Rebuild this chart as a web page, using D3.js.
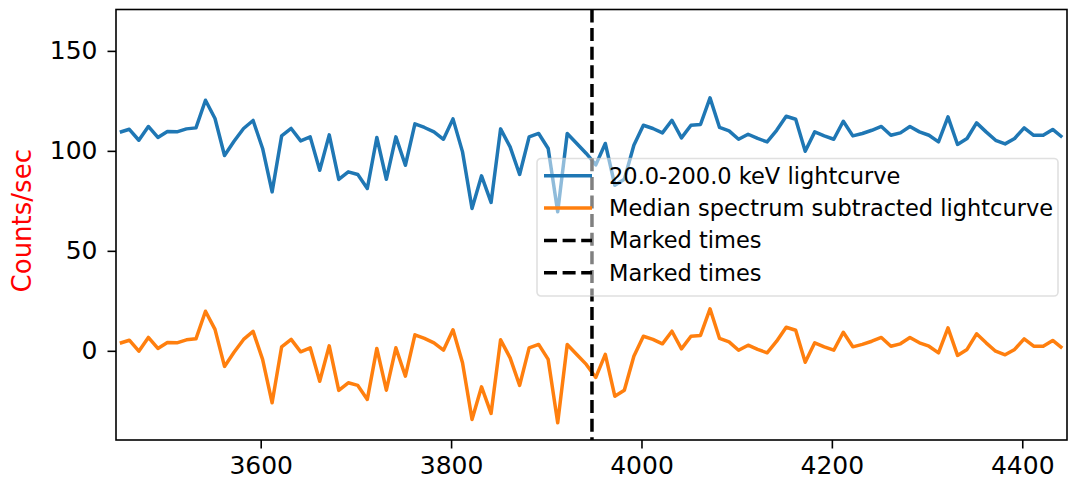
<!DOCTYPE html>
<html>
<head>
<meta charset="utf-8">
<script src="https://cdn.jsdelivr.net/npm/d3@7"></script>
<style>
    body { margin: 0; background: #fff; }
    text { font-family: "DejaVu Sans", sans-serif; }
</style>
</head>
<body>
<div id="wrapper"></div>
<script>

// time bins (seconds), 10 s wide
const timeStart = 3452
const timeStep = 10

const lightcurve = [
    109.3, 110.8, 105.3, 112.2, 106.7, 109.7, 109.5, 111.0, 111.5, 125.3,
    116.2, 97.7, 104.8, 111.2, 115.2, 101.2, 79.5, 107.5, 111.2, 105.0,
    107.0, 90.3, 108.0, 85.7, 89.5, 88.2, 81.2, 106.7, 85.8, 107.0,
    92.8, 113.5, 111.7, 109.5, 105.8, 116.0, 99.5, 71.2, 87.5, 74.2,
    111.0, 102.0, 88.2, 107.0, 108.7, 101.2, 69.5, 108.7, 103.7, 98.7,
    93.0, 103.7, 82.8, 85.8, 102.8, 112.8, 111.2, 109.0, 115.3, 106.5,
    112.8, 113.2, 126.5, 111.7, 110.0, 105.8, 108.3, 106.2, 104.5, 110.3,
    117.3, 115.8, 99.8, 109.5, 107.5, 105.8, 114.8, 107.5, 108.7, 110.3,
    112.2, 107.8, 109.0, 112.2, 109.5, 107.8, 104.5, 117.0, 103.2, 106.2,
    114.0, 109.5, 105.3, 103.5, 106.2, 111.5, 107.8, 107.8, 110.7, 106.8
]

const subtracted = [
    3.8, 5.3, -0.2, 6.7, 1.2, 4.2, 4.0, 5.5, 6.0, 19.8,
    10.7, -7.8, -0.7, 5.7, 9.7, -4.3, -26.0, 2.0, 5.7, -0.5,
    1.5, -15.2, 2.5, -19.8, -16.0, -17.3, -24.3, 1.2, -19.7, 1.5,
    -12.7, 8.0, 6.2, 4.0, 0.3, 10.5, -6.0, -34.3, -18.0, -31.3,
    5.5, -3.5, -17.3, 1.5, 3.2, -4.3, -36.0, 3.2, -1.8, -6.8,
    -13.3, -1.8, -22.7, -19.7, -2.7, 7.3, 5.7, 3.5, 9.8, 1.0,
    7.3, 7.7, 21.0, 6.2, 4.5, 0.3, 2.8, 0.7, -1.0, 4.8,
    11.8, 10.3, -5.7, 4.0, 2.0, 0.3, 9.3, 2.0, 3.2, 4.8,
    6.7, 2.3, 3.5, 6.7, 4.0, 2.3, -1.0, 11.5, -2.3, 0.7,
    8.5, 4.0, -0.2, -2.0, 0.7, 6.0, 2.3, 2.3, 5.2, 1.3
]

const markedTimes = [3948]
const xTicks = [3600, 3800, 4000, 4200, 4400]
const yTicks = [0, 50, 100, 150]
const legendLabels = [
    '20.0-200.0 keV lightcurve',
    'Median spectrum subtracted lightcurve',
    'Marked times',
    'Marked times'
]

async function drawChart() {

    const blue = '#1f77b4'
    const orange = '#ff7f0e'
    const dash = '13,5.6'

    //#region dimensions

    let dimensions = {
        width: 1069,
        height: 482,
        margin: { top: 9.5, right: 2, bottom: 42, left: 116 }
    }
    dimensions.boundedWidth = dimensions.width - dimensions.margin.left - dimensions.margin.right
    dimensions.boundedHeight = dimensions.height - dimensions.margin.top - dimensions.margin.bottom

    //#endregion

    //#region canvas

    const wrapper = d3.select('#wrapper')
        .append('svg')
        .attr('width', dimensions.width)
        .attr('height', dimensions.height)

    const bounds = wrapper.append('g')
        .attr('transform', `translate(${dimensions.margin.left},${dimensions.margin.top})`)

    bounds.append('clipPath')
        .attr('id', 'clip')
        .append('rect')
        .attr('width', dimensions.boundedWidth)
        .attr('height', dimensions.boundedHeight)

    //#endregion

    //#region scales

    const times = d3.range(lightcurve.length).map(i => timeStart + i * timeStep)

    const xScale = d3.scaleLinear()
        .domain([3448, 4447])
        .range([0, dimensions.boundedWidth])

    const yScale = d3.scaleLinear()
        .domain([-44.6, 170.7])
        .range([dimensions.boundedHeight, 0])

    const lineGenerator = d3.line()
        .x((d, i) => xScale(times[i]))
        .y(d => yScale(d))

    //#endregion

    //#region data

    const plot = bounds.append('g').attr('clip-path', 'url(#clip)')

    plot.append('path')
        .datum(lightcurve)
        .attr('d', lineGenerator)
        .attr('fill', 'none')
        .attr('stroke', blue)
        .attr('stroke-width', 3.5)
        .attr('stroke-linejoin', 'round')

    plot.append('path')
        .datum(subtracted)
        .attr('d', lineGenerator)
        .attr('fill', 'none')
        .attr('stroke', orange)
        .attr('stroke-width', 3.5)
        .attr('stroke-linejoin', 'round')

    plot.selectAll('.marked')
        .data(markedTimes)
        .enter().append('line')
        .attr('class', 'marked')
        .attr('x1', d => xScale(d))
        .attr('x2', d => xScale(d))
        .attr('y1', 0)
        .attr('y2', dimensions.boundedHeight)
        .attr('stroke', '#000')
        .attr('stroke-width', 3.5)
        .attr('stroke-dasharray', dash)

    //#endregion

    //#region axes

    const xAxis = d3.axisBottom(xScale)
        .tickValues(xTicks)
        .tickFormat(d3.format('d'))
        .tickSize(8.5)
        .tickPadding(8)

    const yAxis = d3.axisLeft(yScale)
        .tickValues(yTicks)
        .tickFormat(d3.format('d'))
        .tickSize(8.5)
        .tickPadding(10)

    const xAxisGroup = bounds.append('g')
        .attr('transform', `translate(0,${dimensions.boundedHeight})`)
        .call(xAxis)

    const yAxisGroup = bounds.append('g').call(yAxis)

    for (const g of [xAxisGroup, yAxisGroup]) {
        g.select('.domain').remove()
        g.selectAll('line').attr('stroke', '#000').attr('stroke-width', 1.6)
        g.selectAll('text')
            .attr('fill', '#000')
            .style('font-size', '25px')
            .style('font-family', '"DejaVu Sans", sans-serif')
    }

    bounds.append('rect')
        .attr('width', dimensions.boundedWidth)
        .attr('height', dimensions.boundedHeight)
        .attr('fill', 'none')
        .attr('stroke', '#000')
        .attr('stroke-width', 1.6)

    wrapper.append('text')
        .attr('transform', `translate(22,${dimensions.margin.top + dimensions.boundedHeight / 2 - 4}) rotate(-90)`)
        .attr('text-anchor', 'middle')
        .attr('dy', '0.35em')
        .attr('fill', 'red')
        .style('font-size', '26px')
        .text('Counts/sec')

    //#endregion

    //#region legend

    // legend sits on top of the curves with a half transparent frame
    const legend = wrapper.append('g')
        .attr('transform', 'translate(537,158.5)')

    legend.append('rect')
        .attr('width', 521)
        .attr('height', 137.5)
        .attr('rx', 4)
        .attr('fill', '#fff')
        .attr('fill-opacity', 0.5)
        .attr('stroke', '#cccccc')
        .attr('stroke-opacity', 0.6)
        .attr('stroke-width', 1.6)

    const legendStyles = [
        { color: blue, dash: null },
        { color: orange, dash: null },
        { color: '#000', dash: dash },
        { color: '#000', dash: dash }
    ]

    const items = legend.selectAll('.legend-item')
        .data(legendLabels)
        .enter().append('g')
        .attr('class', 'legend-item')
        .attr('transform', (d, i) => `translate(0,${17.3 + i * 32.3})`)

    items.append('line')
        .attr('x1', 7)
        .attr('x2', 55)
        .attr('stroke', (d, i) => legendStyles[i].color)
        .attr('stroke-width', 3.5)
        .attr('stroke-dasharray', (d, i) => legendStyles[i].dash)

    items.append('text')
        .attr('x', 72)
        .attr('dy', '0.35em')
        .attr('fill', '#000')
        .style('font-size', '22.5px')
        .text(d => d)

    //#endregion
}

drawChart()
</script>
</body>
</html>
